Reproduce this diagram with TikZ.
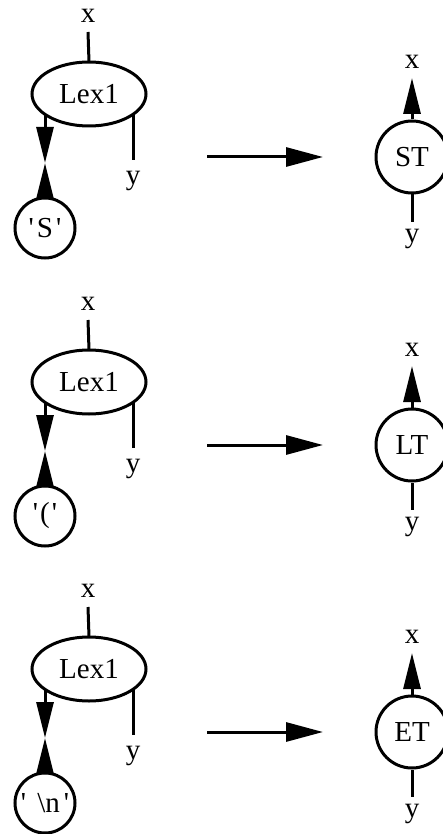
\documentclass[tikz,border=0pt]{standalone}
\usepackage{fontspec}
\setmainfont{Liberation Serif}[Ligatures=TeXOff]
\usetikzlibrary{arrows.meta,shapes.geometric}
\begin{document}
\begin{tikzpicture}[x=1pt,y=-1pt,
    every node/.style={font=\fontsize{29}{34}\selectfont},
    wire/.style={line width=3pt},
    tip/.style={wire,-{Triangle[length=36pt,width=17pt]}},
    lexnode/.style={ellipse,draw,line width=3pt,minimum width=114pt,minimum height=64pt,inner sep=0pt,outer sep=0pt},
    charnode/.style={circle,draw,line width=3pt,minimum size=60pt,inner sep=0pt},
    tokennode/.style={circle,draw,line width=3pt,minimum size=72pt,inner sep=0pt},
    lbl/.style={inner sep=0pt}]
  \useasboundingbox (0,0) rectangle (442,834);

  % one rewrite rule: Lex1 reading a character becomes a token node
  % #1 = vertical offset, #2 = character text, #3 = token text, #4 = name prefix
  % the ellipse has half-axes 57 x 32; the side wires leave its border
  % at x = +-44, which is 20.35 below the centre
  \newcommand\rewriterule[4]{%
    \begin{scope}[yshift=-#1pt]
      \node[lexnode] (#4lex) at (89,94) {Lex1};
      \node[lbl] (#4lx) at (88,16) {x};
      \node[lbl] (#4ly) at (133,181) {y};
      \node[charnode] (#4ch) at (45,228) {#2};
      \coordinate (#4mid) at (45,163);
      \coordinate (#4xin) at (88,32);
      \coordinate (#4yout) at (133,160);
      \draw[wire] (#4xin) -- (#4lex.north);
      \draw[wire] ([shift={(44,20.35)}]#4lex.center) -- (#4yout);
      \draw[tip] ([shift={(-44,20.35)}]#4lex.center) -- (#4mid);
      \draw[tip] (#4ch.north) -- (#4mid);

      \coordinate (#4from) at (207,157);
      \coordinate (#4to) at (323,157);
      \draw[wire,-{Triangle[length=37pt,width=19pt]}] (#4from) -- (#4to);

      \node[tokennode] (#4tok) at (412,157) {#3};
      \node[lbl] (#4tx) at (412,62) {x};
      \node[lbl] (#4ty) at (412,239) {y};
      \coordinate (#4up) at (412,78);
      \coordinate (#4down) at (412,222);
      \draw[tip] (#4tok.north) -- (#4up);
      \draw[wire] (#4tok.south) -- (#4down);
    \end{scope}}

  \rewriterule{0}{'\kern3pt S\kern3pt'}{ST}{a}
  \rewriterule{288}{'\kern2pt (\kern2pt'}{LT}{b}
  \rewriterule{575}{'\kern4pt\ \textbackslash n\kern4pt'}{ET}{c}
\end{tikzpicture}
\end{document}
